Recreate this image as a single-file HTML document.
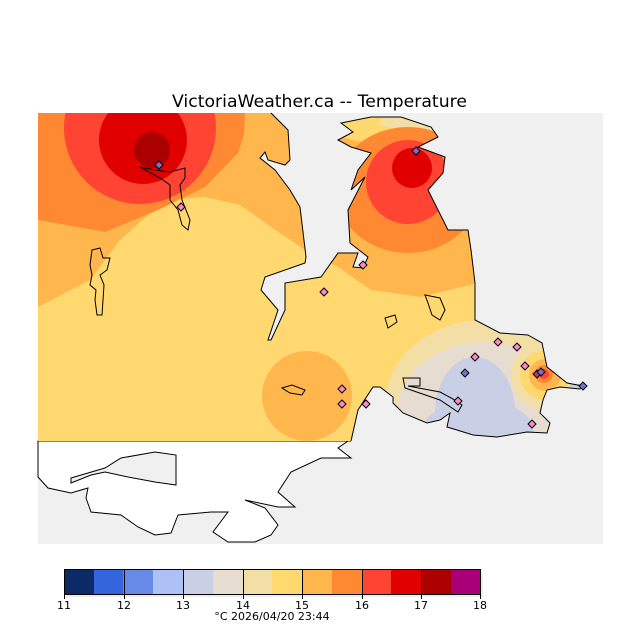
<!DOCTYPE html>
<html><head><meta charset="utf-8"><style>
html,body{margin:0;padding:0;background:#fff;}
svg{display:block;}
text{font-family:"DejaVu Sans","Liberation Sans",sans-serif;fill:#000;}
</style></head><body>
<svg width="640" height="640" viewBox="0 0 640 640" xmlns="http://www.w3.org/2000/svg">
<defs>
<clipPath id="land">
<path d="M38,113 L271,113 L288,130 L290,160 L285,165 L268,160 L265,152 L260,158 L275,170 L290,190 L300,207 L306,257 L305,263 L265,277 L261,290 L278,310 L268,340 L271,340 L285,310 L285,283 L321,277 L338,253 L358,253 L353,267 L363,268 L368,257 L350,243 L348,210 L365,177 L351,190 L358,170 L371,153 L351,147 L338,140 L353,132 L341,123 L371,117 L401,117 L431,127 L438,137 L418,147 L445,157 L443,173 L428,190 L438,210 L448,230 L468,230 L471,250 L475,283 L475,320 L500,333 L528,335 L542,343 L547,367 L567,383 L583,386 L580,389 L560,387 L547,390 L543,400 L540,413 L550,423 L547,433 L527,432 L497,437 L473,435 L457,430 L447,427 L450,413 L440,420 L427,423 L403,413 L393,403 L393,397 L380,387 L373,387 L358,410 L351,441 L38,441 Z"/>
</clipPath>
</defs>
<rect x="38" y="113" width="565" height="431" fill="#f0f0f0"/>
<!-- white land below data -->
<path d="M38,441 L351,441 L348,441 L338,448 L351,458 L321,458 L291,472 L278,492 L295,507 L278,507 L245,500 L265,508 L278,525 L271,535 L255,542 L228,542 L213,532 L228,512 L211,512 L178,515 L171,533 L155,535 L138,527 L121,515 L91,512 L86,498 L88,488 L71,493 L48,488 L38,477 Z" fill="#fff" stroke="#000" stroke-width="1"/>
<path d="M71,478 L105,468 L121,458 L155,452 L176,455 L176,485 L155,482 L128,477 L105,472 L91,475 L71,483 Z" fill="#f0f0f0" stroke="#000" stroke-width="1"/>
<g clip-path="url(#land)">
<rect x="38" y="113" width="565" height="330" fill="#ffd870"/>
<path d="M38,113 L603,113 L603,283 L478,283 L421,297 L371,290 L338,267 L305,250 L271,227 L240,205 L205,197 L165,200 L120,240 L90,280 L38,307 Z" fill="#ffb74d"/>
<circle cx="307" cy="396" r="45" fill="#ffb74d"/>
<path d="M38,113 L245,113 L244,135 L238,153 L205,187 L158,210 L105,232 L38,220 Z" fill="#ff8833"/>
<circle cx="140" cy="128" r="76" fill="#ff4433"/>
<circle cx="143" cy="140" r="44" fill="#e00000"/>
<circle cx="152" cy="150" r="18" fill="#aa0000"/>
<ellipse cx="395" cy="130" rx="60" ry="14" fill="#ffd870"/>
<ellipse cx="420" cy="122" rx="40" ry="9" fill="#f3dfa6"/>
<ellipse cx="408" cy="190" rx="72" ry="63" fill="#ff8833"/>
<circle cx="408" cy="182" r="42" fill="#ff4433"/>
<circle cx="412" cy="168" r="20" fill="#e00000"/>
<ellipse cx="485" cy="405" rx="100" ry="85" fill="#f3dfa6"/>
<ellipse cx="485" cy="412" rx="88" ry="70" fill="#e6ddd0"/>
<ellipse cx="475" cy="412" rx="40" ry="55" fill="#c9cfe4"/>
<ellipse cx="478" cy="430" rx="55" ry="30" fill="#c9cfe4"/>
<circle cx="545" cy="375" r="34" fill="#f3dfa6"/>
<circle cx="545" cy="375" r="25" fill="#ffd870"/>
<circle cx="545" cy="375" r="16" fill="#ffb74d"/>
<circle cx="544" cy="374" r="9" fill="#ff8833"/>
<circle cx="544" cy="374" r="5" fill="#ff4433"/>
<ellipse cx="580" cy="386" rx="10" ry="5" fill="#c9cfe4"/>
</g>
<path d="M271,113 L288,130 L290,160 L285,165 L268,160 L265,152 L260,158 L275,170 L290,190 L300,207 L306,257 L305,263 L265,277 L261,290 L278,310 L268,340 L271,340 L285,310 L285,283 L321,277 L338,253 L358,253 L353,267 L363,268 L368,257 L350,243 L348,210 L365,177 L351,190 L358,170 L371,153 L351,147 L338,140 L353,132 L341,123 L371,117 L401,117 L431,127 L438,137 L418,147 L445,157 L443,173 L428,190 L438,210 L448,230 L468,230 L471,250 L475,283 L475,320 L500,333 L528,335 L542,343 L547,367 L567,383 L583,386 L580,389 L560,387 L547,390 L543,400 L540,413 L550,423 L547,433 L527,432 L497,437 L473,435 L457,430 L447,427 L450,413 L440,420 L427,423 L403,413 L393,403 L393,397 L380,387 L373,387 L358,410 L351,441" fill="none" stroke="#000" stroke-width="1"/>
<!-- islands -->
<g fill="none" stroke="#000" stroke-width="1">
<path d="M92,250 L100,248 L103,258 L110,258 L107,270 L100,275 L104,285 L102,315 L97,315 L95,300 L96,290 L90,285 L92,275 L90,265 Z"/>
<path d="M140,167 L155,170 L170,172 L185,168 L185,178 L180,185 L182,200 L190,220 L188,230 L182,225 L178,210 L170,200 L170,185 L160,178 Z"/>
<path d="M282,388 L292,385 L305,390 L302,395 L290,393 Z"/>
<path d="M425,295 L440,298 L445,310 L440,320 L432,315 L428,303 Z"/>
<path d="M385,318 L395,315 L397,322 L388,328 Z"/>
<path d="M403,378 L420,378 L420,386 L408,386 L440,392 L455,400 L462,405 L458,412 L440,400 L405,388 Z"/>
</g>
<!-- stations -->
<g stroke="#000" stroke-width="1" fill="#ff88cc">
<path d="M159,161 l4,4 -4,4 -4,-4z" fill="#8866cc"/>
<path d="M181,203 l4,4 -4,4 -4,-4z"/>
<path d="M324,288 l4,4 -4,4 -4,-4z"/>
<path d="M363,261 l4,4 -4,4 -4,-4z"/>
<path d="M416,147 l4,4 -4,4 -4,-4z" fill="#8866cc"/>
<path d="M342,385 l4,4 -4,4 -4,-4z"/>
<path d="M342,400 l4,4 -4,4 -4,-4z"/>
<path d="M366,400 l4,4 -4,4 -4,-4z"/>
<path d="M498,338 l4,4 -4,4 -4,-4z"/>
<path d="M475,353 l4,4 -4,4 -4,-4z"/>
<path d="M465,369 l4,4 -4,4 -4,-4z" fill="#6677cc"/>
<path d="M517,343 l4,4 -4,4 -4,-4z"/>
<path d="M525,362 l4,4 -4,4 -4,-4z"/>
<path d="M537,370 l4,4 -4,4 -4,-4z" fill="#cc3366"/>
<path d="M541,368 l4,4 -4,4 -4,-4z" fill="#8866cc"/>
<path d="M458,397 l4,4 -4,4 -4,-4z"/>
<path d="M532,420 l4,4 -4,4 -4,-4z"/>
<path d="M583,382 l4,4 -4,4 -4,-4z" fill="#6677cc"/>
</g>
<text x="172" y="107" font-size="17" textLength="295" lengthAdjust="spacingAndGlyphs" fill="#222">VictoriaWeather.ca -- Temperature</text>
<!-- colorbar -->
<rect x="66" y="572" width="417" height="25" fill="#ececec"/>
<g>
<rect x="64" y="569" width="30" height="25" fill="#0c2a66"/>
<rect x="94" y="569" width="29" height="25" fill="#3366dd"/>
<rect x="123" y="569" width="30" height="25" fill="#668ae6"/>
<rect x="153" y="569" width="30" height="25" fill="#adc1f7"/>
<rect x="183" y="569" width="30" height="25" fill="#c9cfe4"/>
<rect x="213" y="569" width="30" height="25" fill="#e6ddd0"/>
<rect x="243" y="569" width="29" height="25" fill="#f3dfa6"/>
<rect x="272" y="569" width="30" height="25" fill="#ffd870"/>
<rect x="302" y="569" width="30" height="25" fill="#ffb74d"/>
<rect x="332" y="569" width="30" height="25" fill="#ff8833"/>
<rect x="362" y="569" width="29" height="25" fill="#ff4433"/>
<rect x="391" y="569" width="30" height="25" fill="#e00000"/>
<rect x="421" y="569" width="30" height="25" fill="#aa0000"/>
<rect x="451" y="569" width="30" height="25" fill="#aa0077"/>
</g>
<rect x="64.5" y="569.5" width="416" height="25" fill="none" stroke="#000"/>
<g stroke="#000">
<line x1="64.5" y1="569" x2="64.5" y2="599"/><line x1="124.5" y1="569" x2="124.5" y2="599"/>
<line x1="183.5" y1="569" x2="183.5" y2="599"/><line x1="243.5" y1="569" x2="243.5" y2="599"/>
<line x1="302.5" y1="569" x2="302.5" y2="599"/><line x1="362.5" y1="569" x2="362.5" y2="599"/>
<line x1="421.5" y1="569" x2="421.5" y2="599"/><line x1="480.5" y1="569" x2="480.5" y2="599"/>
</g>
<g font-size="11" text-anchor="middle">
<text x="64" y="609">11</text><text x="124" y="609">12</text><text x="183" y="609">13</text>
<text x="243" y="609">14</text><text x="302" y="609">15</text><text x="362" y="609">16</text>
<text x="421" y="609">17</text><text x="480" y="609">18</text>
<text x="272" y="620">°C  2026/04/20 23:44</text>
</g>
</svg>
</body></html>
